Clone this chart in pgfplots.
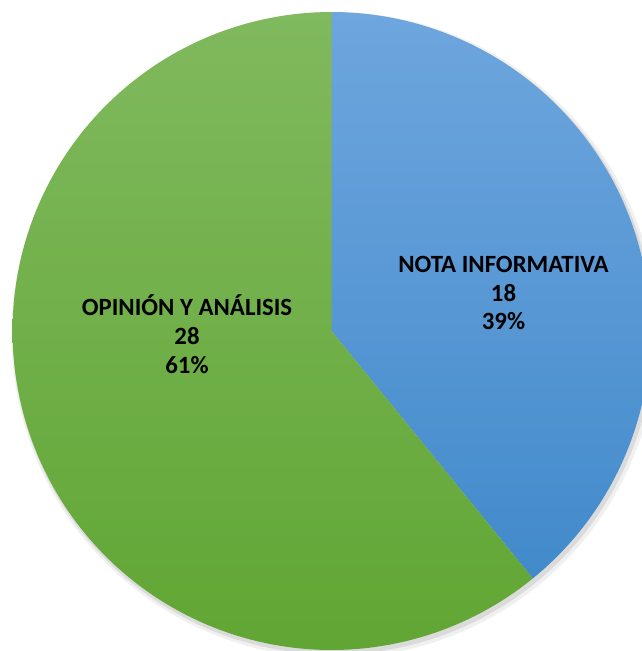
\documentclass[border=0pt]{standalone}
\usepackage{pgfplots}
\pgfplotsset{compat=1.18}
\usepackage{fontspec}
\setmainfont{Carlito}
\definecolor{bluetop}{HTML}{6EA6DE}
\definecolor{bluebot}{HTML}{428ACB}
\definecolor{greentop}{HTML}{80B95E}
\definecolor{greenbot}{HTML}{61A634}
\begin{document}
\begin{tikzpicture}
% values: NOTA INFORMATIVA = 18, OPINION Y ANALISIS = 28
\pgfmathsetmacro{\va}{18}
\pgfmathsetmacro{\vb}{28}
\pgfmathsetmacro{\tot}{\va+\vb}
\pgfmathsetmacro{\angA}{90-360*\va/\tot}
\pgfmathsetmacro{\angB}{\angA-360*\vb/\tot}
\def\cx{331.5}\def\cy{320}\def\rr{319}
\begin{axis}[
  name=main,
  hide axis, scale only axis,
  width=481.5pt, height=488.25pt,
  xmin=0, xmax=642, ymin=0, ymax=651,
  clip=true,
]
% soft shadow
\addplot[draw=none, fill=black!6, domain=0:360, samples=180]
  ({\cx+3+(\rr+4)*cos(x)},{\cy-4+(\rr+4)*sin(x)}) -- cycle;
\addplot[draw=none, fill=black!14, domain=0:360, samples=180]
  ({\cx+2+(\rr+1.5)*cos(x)},{\cy-3+(\rr+1.5)*sin(x)}) -- cycle;
% blue wedge
\addplot[draw=none, top color=bluetop, bottom color=bluebot, domain=\angA:90, samples=120]
  ({\cx+\rr*cos(x)},{\cy+\rr*sin(x)}) -- (axis cs:\cx,\cy) -- cycle;
% green wedge
\addplot[draw=none, top color=greentop, bottom color=greenbot, domain=\angB:\angA, samples=160]
  ({\cx+\rr*cos(x)},{\cy+\rr*sin(x)}) -- (axis cs:\cx,\cy) -- cycle;
\end{axis}
\begin{axis}[
  hide axis, scale only axis,
  width=481.5pt, height=488.25pt,
  xmin=0, xmax=642, ymin=0, ymax=651,
]
\addplot[draw=none, forget plot] coordinates {(0,0)};
\node[anchor=base, font=\fontsize{18.6}{22}\selectfont\bfseries] at (axis cs:503.5,378) {NOTA INFORMATIVA};
\node[anchor=base, font=\fontsize{18.6}{22}\selectfont\bfseries] at (axis cs:503.5,349.5) {18};
\node[anchor=base, font=\fontsize{18.6}{22}\selectfont\bfseries] at (axis cs:503.5,321) {39\%};
\node[anchor=base, font=\fontsize{18.6}{22}\selectfont\bfseries] at (axis cs:187,335) {OPINIÓN Y ANÁLISIS};
\node[anchor=base, font=\fontsize{18.6}{22}\selectfont\bfseries] at (axis cs:187,306) {28};
\node[anchor=base, font=\fontsize{18.6}{22}\selectfont\bfseries] at (axis cs:187,277) {61\%};
\end{axis}
\pgfresetboundingbox
\path[use as bounding box] (main.south west) rectangle (main.north east);
\end{tikzpicture}
\end{document}
